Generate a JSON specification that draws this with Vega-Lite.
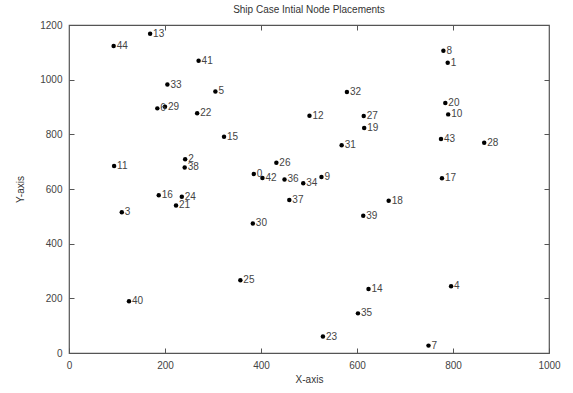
{
  "$schema": "https://vega.github.io/schema/vega-lite/v6.json",
  "width": 480,
  "height": 328,
  "autosize": "none",
  "padding": {"left": 69, "top": 25, "right": 24, "bottom": 40},
  "background": "white",
  "config": {
    "view": {"stroke": "#555", "strokeWidth": 1.2},
    "font": "Liberation Sans"
  },
  "title": {"text": "Ship Case Intial Node Placements", "fontSize": 10, "fontWeight": "normal", "color": "#333", "offset": 5, "font": "Liberation Sans"},
  "data": {
    "values": [
      {"id": "0", "x": 385, "y": 655},
      {"id": "1", "x": 789, "y": 1062},
      {"id": "2", "x": 242, "y": 709},
      {"id": "3", "x": 110, "y": 515},
      {"id": "4", "x": 796, "y": 244},
      {"id": "5", "x": 305, "y": 957},
      {"id": "6", "x": 184, "y": 895},
      {"id": "7", "x": 749, "y": 27},
      {"id": "8", "x": 780, "y": 1106},
      {"id": "9", "x": 526, "y": 644},
      {"id": "10", "x": 790, "y": 873},
      {"id": "11", "x": 94, "y": 684},
      {"id": "12", "x": 501, "y": 868},
      {"id": "13", "x": 169, "y": 1168},
      {"id": "14", "x": 624, "y": 234},
      {"id": "15", "x": 323, "y": 791},
      {"id": "16", "x": 187, "y": 577},
      {"id": "17", "x": 777, "y": 639},
      {"id": "18", "x": 666, "y": 557},
      {"id": "19", "x": 615, "y": 823},
      {"id": "20", "x": 784, "y": 915},
      {"id": "21", "x": 223, "y": 540},
      {"id": "22", "x": 267, "y": 877},
      {"id": "23", "x": 529, "y": 60},
      {"id": "24", "x": 235, "y": 572},
      {"id": "25", "x": 357, "y": 266},
      {"id": "26", "x": 432, "y": 696},
      {"id": "27", "x": 614, "y": 867},
      {"id": "28", "x": 865, "y": 769},
      {"id": "29", "x": 200, "y": 901},
      {"id": "30", "x": 383, "y": 474},
      {"id": "31", "x": 568, "y": 760},
      {"id": "32", "x": 579, "y": 955},
      {"id": "33", "x": 205, "y": 982},
      {"id": "34", "x": 488, "y": 621},
      {"id": "35", "x": 602, "y": 145},
      {"id": "36", "x": 449, "y": 635},
      {"id": "37", "x": 459, "y": 560},
      {"id": "38", "x": 241, "y": 679},
      {"id": "39", "x": 613, "y": 502},
      {"id": "40", "x": 125, "y": 189},
      {"id": "41", "x": 270, "y": 1069},
      {"id": "42", "x": 403, "y": 640},
      {"id": "43", "x": 775, "y": 783},
      {"id": "44", "x": 93, "y": 1123}
    ]
  },
  "layer": [
    {
      "mark": {"type": "point", "filled": true, "color": "black", "size": 20, "opacity": 1},
      "encoding": {
        "x": {"field": "x", "type": "quantitative", "scale": {"domain": [0, 1000], "nice": false, "zero": false},
          "axis": {"orient": "bottom", "title": "X-axis", "format": "d", "values": [0, 200, 400, 600, 800, 1000], "grid": false, "domain": false, "tickSize": -5, "tickColor": "#555", "labelPadding": 12, "labelFontSize": 10, "labelColor": "#444", "titleFontSize": 10, "titleFontWeight": "normal", "titleColor": "#333", "titlePadding": 4, "labelFlush": false}},
        "y": {"field": "y", "type": "quantitative", "scale": {"domain": [0, 1200], "nice": false, "zero": false},
          "axis": {"orient": "left", "title": "Y-axis", "format": "d", "values": [0, 200, 400, 600, 800, 1000, 1200], "grid": false, "domain": false, "tickSize": -5, "tickColor": "#555", "labelPadding": 12, "labelFontSize": 10, "labelColor": "#444", "titleFontSize": 10, "titleFontWeight": "normal", "titleColor": "#333", "titlePadding": 14, "labelFlush": false}}
      }
    },
    {
      "mark": {"type": "text", "align": "left", "baseline": "middle", "dx": 3, "fontSize": 10, "color": "#444", "font": "Liberation Sans"},
      "encoding": {
        "x": {"field": "x", "type": "quantitative", "scale": {"domain": [0, 1000], "nice": false, "zero": false},
          "axis": {"orient": "top", "title": null, "values": [200, 400, 600, 800], "labels": false, "grid": false, "domain": false, "tickSize": -5, "tickColor": "#555"}},
        "y": {"field": "y", "type": "quantitative", "scale": {"domain": [0, 1200], "nice": false, "zero": false},
          "axis": {"orient": "right", "title": null, "values": [200, 400, 600, 800, 1000], "labels": false, "grid": false, "domain": false, "tickSize": -5, "tickColor": "#555"}},
        "text": {"field": "id"}
      }
    }
  ],
  "resolve": {"axis": {"x": "independent", "y": "independent"}}
}
